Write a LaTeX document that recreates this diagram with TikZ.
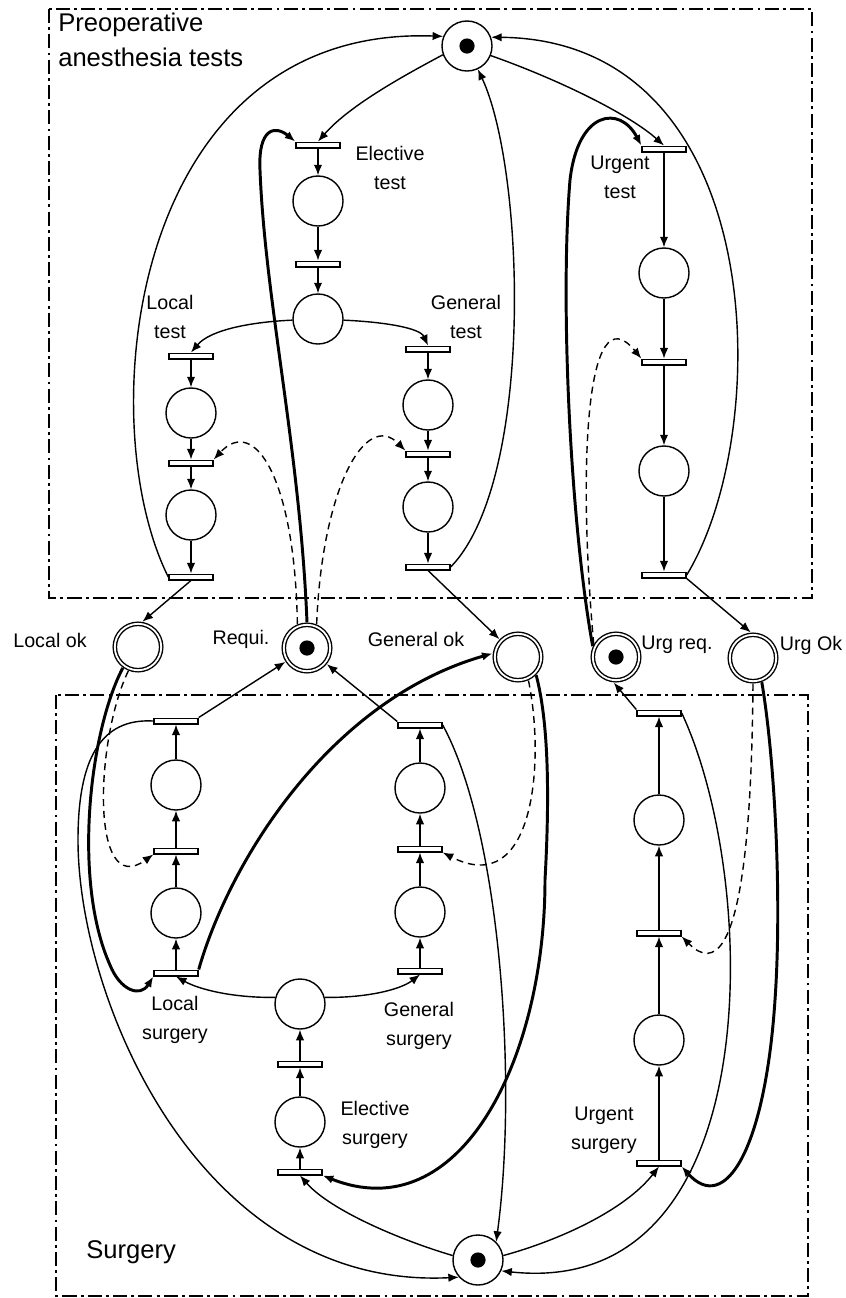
\documentclass[tikz,border=0pt]{standalone}
\usepackage{fontspec}
\setmainfont{Liberation Sans}
\usetikzlibrary{arrows.meta}

\tikzset{
  place/.style={circle, draw, line width=1pt, minimum size=1.25cm, inner sep=0pt},
  okplace/.style={circle, draw, double, double distance=1.3pt, line width=1pt,
    minimum size=1.16cm, inner sep=0pt, outer sep=1.8pt},
  marked/.style={path picture={\fill (path picture bounding box.center) circle (0.19cm);}},
  trans/.style={rectangle, draw, fill=white, line width=1pt,
    minimum width=1.1cm, minimum height=0.14cm, inner sep=0pt},
  flow/.style={->, line width=1pt},
  thickflow/.style={->, line width=2.1pt},
  readflow/.style={->, line width=1pt, dash pattern=on 5pt off 3.5pt},
  lbl/.style={font=\fontsize{14}{20.6}\selectfont, align=center, inner sep=0pt},
  region/.style={line width=1pt, dash pattern=on 10pt off 3pt on 2pt off 3pt},
  regiontitle/.style={font=\fontsize{18.2}{24.8}\selectfont, inner sep=0pt},
}

\begin{document}
\begin{tikzpicture}[x=0.025cm, y=-0.025cm, >={Latex[length=7.5pt,width=6pt]}]
        \useasboundingbox (0,0) rectangle (846,1298);

        % Hai vùng
        \draw[region] (49,9) rectangle (812,598);
        \draw[region] (56,695) rectangle (808,1296);
        \node[regiontitle, anchor=north west, align=left] (pretitle) at (58,13) {Preoperative\\anesthesia tests};
        \node[regiontitle, anchor=base west] (surtitle) at (86,1258) {Surgery};

        % Kiểm tra gây mê
        \node[place, marked] (pretok) at (467,46) {};
        \node[trans] (et1) at (318,145) {};
        \node[place] (ep1) at (318,201) {};
        \node[trans] (et2) at (318,264) {};
        \node[place] (ep2) at (318,319) {};
        \node[trans] (lt1) at (191,356) {};
        \node[place] (lp1) at (191,413) {};
        \node[trans] (lt2) at (191,463) {};
        \node[place] (lp2) at (191,515) {};
        \node[trans] (lt3) at (191,577) {};
        \node[trans] (gt1) at (428,349) {};
        \node[place] (gp1) at (428,405) {};
        \node[trans] (gt2) at (428,454) {};
        \node[place] (gp2) at (428,507) {};
        \node[trans] (gt3) at (428,567) {};
        \node[trans] (ut1) at (664,149) {};
        \node[place] (up1) at (664,273) {};
        \node[trans] (ut2) at (664,362) {};
        \node[place] (up2) at (664,471) {};
        \node[trans] (ut3) at (664,575) {};

        % Các vị trí chung
        \node[okplace] (lok) at (138,647) {};
        \node[okplace, marked] (req) at (307,648) {};
        \node[okplace] (gok) at (518,657) {};
        \node[okplace, marked] (ureq) at (616,657) {};
        \node[okplace] (uok) at (753,658) {};

        % Phẫu thuật
        \node[trans] (ls1) at (176,973) {};
        \node[place] (lsp1) at (176,913) {};
        \node[trans] (ls2) at (176,851) {};
        \node[place] (lsp2) at (176,785) {};
        \node[trans] (ls3) at (176,721) {};
        \node[trans] (gs1) at (420,971) {};
        \node[place] (gsp1) at (420,912) {};
        \node[trans] (gs2) at (420,849) {};
        \node[place] (gsp2) at (420,788) {};
        \node[trans] (gs3) at (420,725) {};
        \node[place] (esp2) at (300,1004) {};
        \node[trans] (es2) at (300,1064) {};
        \node[place] (esp1) at (300,1122) {};
        \node[trans] (es1) at (300,1172) {};
        \node[trans] (us1) at (659,1163) {};
        \node[place] (usp1) at (659,1040) {};
        \node[trans] (us2) at (659,933) {};
        \node[place] (usp2) at (659,820) {};
        \node[trans] (us3) at (659,713) {};
        \node[place, marked] (surtok) at (478,1260) {};

        % Nhãn
        \node[lbl] (etl) at (390,168) {Elective\\test};
        \node[lbl] (ltl) at (170,317) {Local\\test};
        \node[lbl] (gtl) at (466,317) {General\\test};
        \node[lbl] (utl) at (620,177) {Urgent\\test};
        \node[lbl] (lokl) at (50,640) {Local ok};
        \node[lbl] (reql) at (241,639) {Requi.};
        \node[lbl] (gokl) at (416,639) {General ok};
        \node[lbl] (ureql) at (677,645) {Urg req.};
        \node[lbl] (uokl) at (811,645) {Urg Ok};
        \node[lbl] (lsl) at (175,1020) {Local\\surgery};
        \node[lbl] (gsl) at (419,1026) {General\\surgery};
        \node[lbl] (esl) at (375,1125) {Elective\\surgery};
        \node[lbl] (usl) at (604,1130) {Urgent\\surgery};

        % Cung trong vùng kiểm tra
        \draw[flow] (pretok.200) .. controls (405,75) and (350,105) .. (et1.north);
        \draw[flow] (et1) -- (ep1);
        \draw[flow] (ep1) -- (et2);
        \draw[flow] (et2) -- (ep2);
        \draw[flow] (ep2) .. controls (250,322) and (210,330) .. (lt1.north);
        \draw[flow] (ep2) .. controls (385,322) and (420,328) .. (gt1.north);
        \draw[flow] (lt1) -- (lp1);
        \draw[flow] (lp1) -- (lt2);
        \draw[flow] (lt2) -- (lp2);
        \draw[flow] (lp2) -- (lt3);
        \draw[flow] (gt1) -- (gp1);
        \draw[flow] (gp1) -- (gt2);
        \draw[flow] (gt2) -- (gp2);
        \draw[flow] (gp2) -- (gt3);
        \draw[flow] (pretok.-22) .. controls (560,80) and (630,115) .. (ut1.north);
        \draw[flow] (ut1) -- (up1);
        \draw[flow] (up1) -- (ut2);
        \draw[flow] (ut2) -- (up2);
        \draw[flow] (up2) -- (ut3);
        \draw[flow] (lt3.west) .. controls (90,420) and (130,25) .. (pretok.158);
        \draw[flow] (gt3.east) .. controls (535,480) and (525,170) .. (pretok);
        \draw[flow] (ut3.east) .. controls (775,430) and (770,40) .. (pretok.20);
        \draw[flow] (lt3.south) -- (lok.80);
        \draw[flow] (gt3.south) -- (gok);
        \draw[flow] (ut3.south east) -- (uok.95);

        % Cung đọc và cung đậm lên trên
        \draw[readflow] (req.112) .. controls (295,480) and (255,415) .. (lt2.north east);
        \draw[readflow] (req.68) .. controls (322,490) and (365,410) .. (gt2.north west);
        \draw[readflow] (ureq.150) .. controls (578,470) and (585,290) .. (ut2.north west);
        \draw[thickflow] (req.north) .. controls (300,450) and (265,300) .. (260,170)
            .. controls (258,128) and (275,125) .. (et1.north west);
        \draw[thickflow] (ureq.155) .. controls (570,520) and (560,300) .. (570,180)
            .. controls (578,110) and (620,105) .. (ut1.north west);

        % Cung trong vùng phẫu thuật
        \draw[flow] (ls1) -- (lsp1);
        \draw[flow] (lsp1) -- (ls2);
        \draw[flow] (ls2) -- (lsp2);
        \draw[flow] (lsp2) -- (ls3);
        \draw[flow] (gs1) -- (gsp1);
        \draw[flow] (gsp1) -- (gs2);
        \draw[flow] (gs2) -- (gsp2);
        \draw[flow] (gsp2) -- (gs3);
        \draw[flow] (es1) -- (esp1);
        \draw[flow] (esp1) -- (es2);
        \draw[flow] (es2) -- (esp2);
        \draw[flow] (us1) -- (usp1);
        \draw[flow] (usp1) -- (us2);
        \draw[flow] (us2) -- (usp2);
        \draw[flow] (usp2) -- (us3);
        \draw[flow] (esp2.165) .. controls (235,998) and (200,990) .. (ls1.south);
        \draw[flow] (esp2.15) .. controls (365,998) and (400,990) .. (gs1.south);
        \draw[flow] (ls3.north east) -- (req);
        \draw[flow] (gs3.north west) -- (req);
        \draw[flow] (us3.north west) -- (ureq.-95);
        \draw[flow] (ls3.west) .. controls (100,718) and (78,760) .. (78,840)
            .. controls (78,1000) and (200,1290) .. (surtok.222);
        \draw[flow] (gs3.east) .. controls (500,830) and (518,1080) .. (surtok.45);
        \draw[flow] (us3.east) .. controls (760,880) and (770,1300) .. (surtok.-25);
        \draw[flow] (surtok.10) .. controls (560,1240) and (625,1210) .. (us1.south);
        \draw[flow] (surtok.170) .. controls (400,1240) and (330,1210) .. (es1.south);

        % Cung đậm và cung đọc xuống dưới
        \draw[thickflow] (lok.234) .. controls (90,730) and (72,880) .. (110,965)
            .. controls (120,990) and (140,998) .. (ls1.south west);
        \draw[thickflow] (ls1.north east) .. controls (230,860) and (330,700) .. (gok.172);
        \draw[thickflow] (gok.-45) .. controls (548,720) and (550,790) .. (545,880)
            .. controls (545,1060) and (460,1230) .. (es1.south east);
        \draw[thickflow] (uok.-70) .. controls (775,760) and (782,900) .. (775,1000)
            .. controls (765,1150) and (725,1215) .. (us1.south east);
        \draw[readflow] (lok.-112) .. controls (95,740) and (90,900) .. (ls2.south west);
        \draw[readflow] (gok.-66) .. controls (545,760) and (535,900) .. (gs2.south east);
        \draw[readflow] (uok.-90) .. controls (752,800) and (745,1000) .. (us2.south east);
    \end{tikzpicture}
\end{document}
